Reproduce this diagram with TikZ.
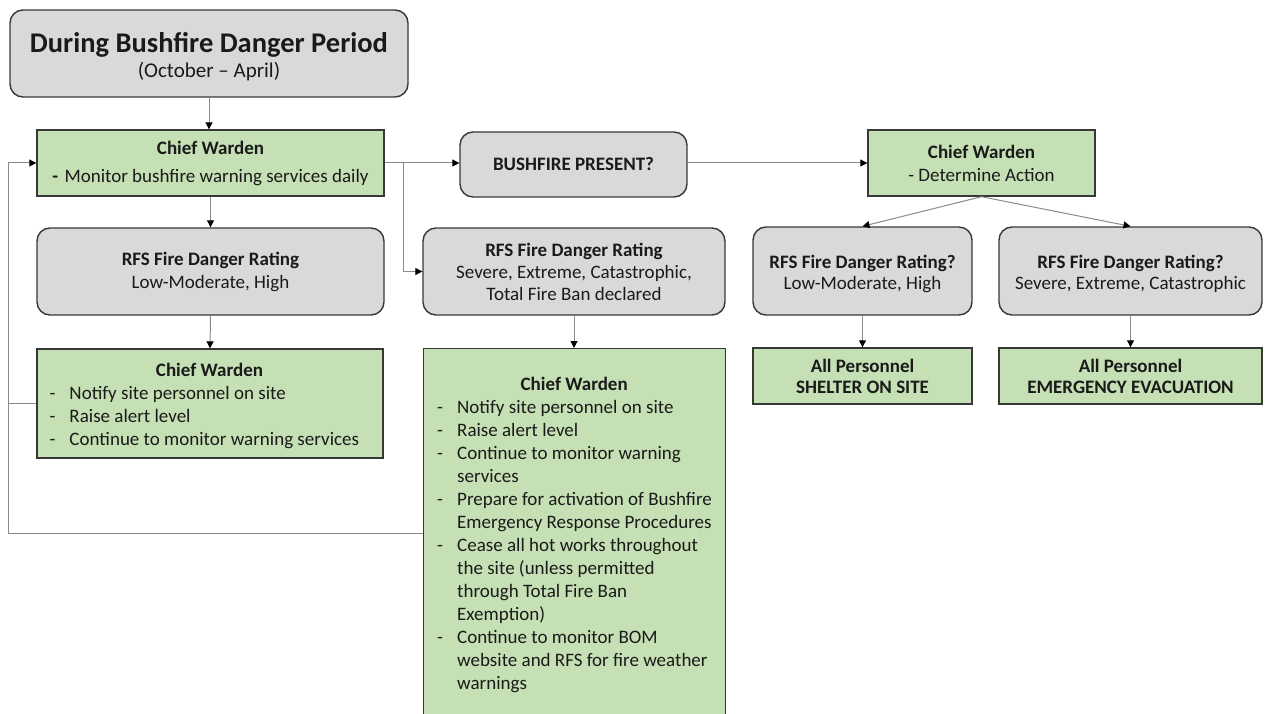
\documentclass[tikz,border=0pt]{standalone}
\usepackage{fontspec}
\setmainfont{Carlito}
\usetikzlibrary{arrows.meta,calc}
\definecolor{boxgray}{HTML}{D9D9D9}
\definecolor{boxgreen}{HTML}{C5E0B4}
\definecolor{edgecol}{HTML}{383838}
\definecolor{conncol}{HTML}{8A8A8A}
\definecolor{txt}{HTML}{1A1A1A}
\newcommand\bdash{\makebox[20pt][l]{-}}
\newcommand\bcont{\hspace*{20pt}}
\begin{document}
\begin{tikzpicture}[x=1pt,y=-1pt,
  base/.style={line width=1.4pt, draw=edgecol, inner sep=0pt, align=center, text=txt,
    font=\fontsize{19}{23}\selectfont},
  gbox/.style={base, fill=boxgray, rounded corners=13pt},
  wbox/.style={base, fill=boxgreen},
  txtnode/.style={inner sep=0pt, align=left, text=txt, font=\fontsize{19}{23}\selectfont},
  conn/.style={draw=conncol, line width=1pt, -{Triangle[length=7pt,width=7pt,color=black]}},
  plain/.style={draw=conncol, line width=1pt}]
\useasboundingbox (0,0) rectangle (1282,714);
\clip (0,0) rectangle (1282,714);

% top box
\node[gbox, minimum width=398, minimum height=87] (top) at (209,53.5)
  {\raisebox{-5pt}[\height][\depth]{\begin{tabular}{@{}c@{}}
   {\fontsize{28.5}{30}\selectfont\bfseries During Bushfire Danger Period}\\[2pt]
   {\fontsize{21}{24}\selectfont (October -- April)}\end{tabular}}};

% first chief warden
\node[wbox, minimum width=347, minimum height=66] (cw1) at (210.5,163)
  {\textbf{Chief Warden}\\[5pt]\textbf{-}\hspace{2pt} Monitor bushfire warning services daily};

% bushfire present
\node[gbox, minimum width=227, minimum height=65] (bp) at (573.5,164.5) {\textbf{BUSHFIRE PRESENT?}};

% chief warden right
\node[wbox, minimum width=227, minimum height=66] (cw2) at (981.5,163)
  {\textbf{Chief Warden}\\- Determine Action};

% RFS boxes
\node[gbox, minimum width=347, minimum height=87] (rfsL) at (210.5,271.5)
  {\textbf{RFS Fire Danger Rating}\\Low-Moderate, High};
\node[gbox, minimum width=302, minimum height=87] (rfsM) at (574,271.5)
  {\textbf{RFS Fire Danger Rating}\\[-1pt]Severe, Extreme, Catastrophic,\\[-1pt]Total Fire Ban declared};
\node[gbox, minimum width=219, minimum height=88] (rfsR1) at (862.5,271)
  {\raisebox{-3pt}[\height][\depth]{\begin{tabular}{@{}c@{}}\textbf{RFS Fire Danger Rating?}\\[-2pt]Low-Moderate, High\end{tabular}}};
\node[gbox, minimum width=263, minimum height=88] (rfsR2) at (1130.5,271)
  {\raisebox{-3pt}[\height][\depth]{\begin{tabular}{@{}c@{}}\textbf{RFS Fire Danger Rating?}\\[-2pt]Severe, Extreme, Catastrophic\end{tabular}}};

% all personnel
\node[wbox, minimum width=219, minimum height=56] (ap1) at (862.5,376)
  {\textbf{All Personnel}\\[-2pt]\textbf{SHELTER ON SITE}};
\node[wbox, minimum width=263, minimum height=56] (ap2) at (1130.5,376)
  {\textbf{All Personnel}\\[-2pt]\textbf{EMERGENCY EVACUATION}};

% chief warden lower left
\node[wbox, minimum width=346, minimum height=109] (cw3) at (210,403.5) {};
\node[txtnode, anchor=west] (cw3t) at ([xshift=13pt,yshift=-2pt]cw3.west)
  {\makebox[320pt]{\textbf{Chief Warden}}\\
   \bdash Notify site personnel on site\\
   \bdash Raise alert level\\
   \bdash Continue to monitor warning services};

% chief warden big
\node[wbox, minimum width=302, minimum height=450, anchor=north west] (cw4) at (423,348) {};
\node[txtnode, anchor=north west] (cw4t) at ([xshift=14pt,yshift=-29pt]cw4.north west)
  {\makebox[274pt]{\textbf{Chief Warden}}\\
   \bdash Notify site personnel on site\\
   \bdash Raise alert level\\
   \bdash Continue to monitor warning\\
   \bcont services\\
   \bdash Prepare for activation of Bushfire\\
   \bcont Emergency Response Procedures\\
   \bdash Cease all hot works throughout\\
   \bcont the site (unless permitted\\
   \bcont through Total Fire Ban\\
   \bcont Exemption)\\
   \bdash Continue to monitor BOM\\
   \bcont website and RFS for fire weather\\
   \bcont warnings};

% connectors
\coordinate (j1) at (403,163);
\coordinate (lp) at (8,533);
\draw[conn] (top.south) -- (top.south |- cw1.north);
\draw[conn] (cw1.south) -- (rfsL.north);
\draw[conn] (rfsL.south) -- (cw3.north);
\draw[conn] (cw1.east) -- (cw1.east -| bp.west);
\draw[conn] (j1) |- (rfsM.west);
\draw[conn] (bp.east |- cw2.west) -- (cw2.west);
\draw[conn] (cw2.south) -- (rfsR1.north);
\draw[conn] (cw2.south) -- (rfsR2.north);
\draw[conn] (rfsR1.south) -- (ap1.north);
\draw[conn] (rfsR2.south) -- (ap2.north);
\draw[conn] (rfsM.south) -- (rfsM.south |- cw4.north);
\draw[conn] (cw4.west |- lp) -- (lp) |- (cw1.west);
\draw[plain] (cw3.west) -- (cw3.west -| lp);
\end{tikzpicture}
\end{document}
